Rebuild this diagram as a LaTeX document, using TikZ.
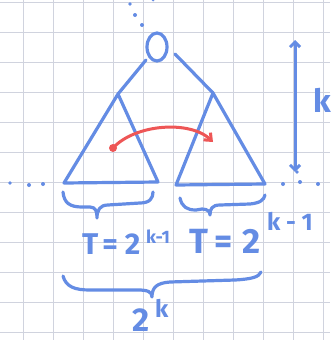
\documentclass[tikz,border=0pt]{standalone}
\usepackage{fontspec}
\setmainfont{Fira Sans}
\usetikzlibrary{arrows.meta}
\definecolor{ink}{RGB}{100,140,228}
\definecolor{redink}{RGB}{238,86,86}
\definecolor{gridc}{RGB}{208,211,222}
\begin{document}
\begin{tikzpicture}[x=1pt,y=-1pt,
  inkline/.style={draw=ink, line width=3.2pt, line cap=round, line join=round},
  inkdot/.style={fill=ink},
  hand/.style={text=ink, inner sep=0pt, anchor=base west},
  gridline/.style={draw=gridc, line width=0.8pt}]
\fill[white] (0,0) rectangle (330,340);
\useasboundingbox (0,0) rectangle (330,340);
% grid paper
\foreach \x in {23,53,...,323} \draw[gridline] (\x,0) -- (\x,340);
\foreach \y in {2,32,...,332} \draw[gridline] (0,\y) -- (330,\y);
% key points
\coordinate (root) at (157,47);
\coordinate (rootL) at (146,60);
\coordinate (rootR) at (175,54);
\coordinate (La) at (118,94);
\coordinate (Lbl) at (64,183);
\coordinate (Lbr) at (158,182);
\coordinate (Ra) at (213,93);
\coordinate (Rbl) at (176,185);
\coordinate (Rbr) at (265,184);
% root and dots above
\draw[inkline] (root) ellipse [x radius=10, y radius=14];
\fill[inkdot] (130,4) circle (1.8) (135,15) circle (2) (142,25) circle (2) (153,0) circle (1.5);
% edges
\draw[inkline] (rootL) -- (La);
\draw[inkline] (rootR) -- (Ra);
% subtrees
\draw[inkline] (La) -- (Lbl) -- (Lbr) -- cycle;
\draw[inkline] (Ra) -- (Rbl) -- (Rbr) -- cycle;
% horizontal dots
\fill[inkdot] (10,183) circle (1.8) (29,185) circle (2) (43,184) circle (2);
\fill[inkdot] (283,184) circle (2) (300,182) circle (2) (318,184) circle (2) (297,172) circle (1.8);
% red arrow
\coordinate (rs) at (113,148);
\coordinate (re) at (213,142);
\fill[redink] (rs) circle (4);
\draw[redink, line width=3pt, line cap=round, -{Straight Barb[length=6pt,width=10pt]}] (rs) .. controls (135,124) and (190,120) .. (re);
% height arrow
\coordinate (ht) at (295,40);
\coordinate (hb) at (295,172);
\draw[ink, line width=3pt, {Straight Barb[length=5pt,width=10pt]}-{Straight Barb[length=5pt,width=10pt]}] (ht) -- (hb);
\node[hand, font=\bfseries\fontsize{32}{32}\selectfont] (klabel) at (313,112) {k};
% braces
\draw[inkline] (63,192) .. controls (64,203) and (70,207) .. (82,207) -- (90,207) .. controls (96,207) and (97,212) .. (97,218)
  .. controls (97,210) and (100,205) .. (108,205) -- (140,203) .. controls (150,203) and (153,198) .. (153,192);
\draw[inkline] (180,198) .. controls (182,207) and (187,210) .. (196,210) -- (202,209) .. controls (208,209) and (210,212) .. (210,215)
  .. controls (210,209) and (212,205) .. (220,205) -- (250,204) .. controls (260,203) and (264,200) .. (265,195);
\draw[inkline] (63,276) .. controls (66,287) and (75,290) .. (90,290) -- (138,290) .. controls (148,290) and (152,292) .. (152,297)
  .. controls (152,288) and (156,283) .. (170,282) -- (235,280) .. controls (252,279) and (259,277) .. (261,272);
% labels
\node[hand, font=\bfseries\fontsize{30}{30}\selectfont] (lT) at (82,254) {T\hspace{4pt}=\hspace{7pt}2};
\node[hand, font=\bfseries\fontsize{18}{18}\selectfont] (lexp) at (146,243) {k-1};
\node[hand, font=\bfseries\fontsize{35}{35}\selectfont] (rT) at (189,253) {T\hspace{6pt}=\hspace{10pt}2};
\node[hand, font=\bfseries\fontsize{24}{24}\selectfont] (rexp) at (267,230) {k - 1};
\node[hand, font=\bfseries\fontsize{33}{33}\selectfont] (bT) at (132,331) {2};
\node[hand, font=\bfseries\fontsize{24}{24}\selectfont] (bexp) at (155,317) {k};
\end{tikzpicture}
\end{document}
